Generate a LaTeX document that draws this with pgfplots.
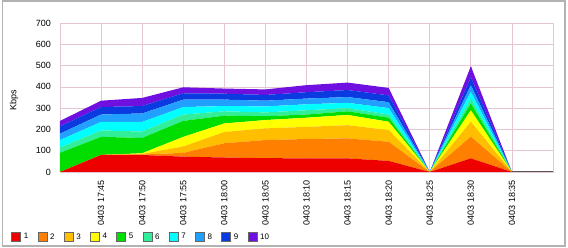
\documentclass[border=0pt]{standalone}
\usepackage{pgfplots}
\pgfplotsset{compat=1.18}
\usepackage{pgfplotstable}
\usepackage{fontspec}
\setmainfont{Liberation Sans}
\definecolor{c1}{HTML}{EE0000}
\definecolor{c2}{HTML}{FF8000}
\definecolor{c3}{HTML}{FFBE00}
\definecolor{c4}{HTML}{FFFF00}
\definecolor{c5}{HTML}{00DD00}
\definecolor{c6}{HTML}{30EE99}
\definecolor{c7}{HTML}{00FFFF}
\definecolor{c8}{HTML}{22A0FF}
\definecolor{c9}{HTML}{0A3AE0}
\definecolor{c10}{HTML}{7010E0}
\definecolor{gridpink}{HTML}{E6C6D4}
\pgfplotstableread{
x l1 l2 l3 l4 l5 l6 l7 l8 l9 l10
0 0 0 0 0 90 25 35 30 35 25
1 80 0 0 0 85 30 40 35 35 30
2 80 2 3 3 72 30 45 40 35 38
3 72 18 30 45 75 30 35 35 30 28
4 68 67 53 40 37 20 25 30 28 24
5 65 85 55 39 18 18 28 27 27 26
6 64 91 57 43 15 20 28 27 30 33
7 64 94 62 48 17 15 25 27 33 35
8 52 90 55 39 19 15 30 28 32 35
9 0 0 0 0 0 0 0 0 0 0
10 64 102 70 54 32 23 32 31 37 52
11 0 0 0 0 0 0 0 0 0 0
}\datatable
\begin{document}
\begin{tikzpicture}[font=\fontsize{9}{10}\selectfont]
\useasboundingbox (0,0) rectangle (568pt,248pt);
\draw[black!30, line width=1.2pt] (2.5pt,2pt) rectangle (565pt,247pt);
\begin{axis}[
  at={(60pt,76pt)}, anchor=south west,
  scale only axis, width=493pt, height=149pt,
  xmin=0, xmax=12, ymin=0, ymax=700,
  stack plots=y,
  xtick={1,...,11},
  xticklabels={0403 17:45,0403 17:50,0403 17:55,0403 18:00,0403 18:05,0403 18:10,0403 18:15,0403 18:20,0403 18:25,0403 18:30,0403 18:35},
  ytick={0,100,...,700},
  xticklabel style={rotate=90, anchor=east, inner sep=0pt},
  xticklabel shift=8pt,
  yticklabel style={anchor=east, inner sep=0pt},
  yticklabel shift=9pt,
  major tick length=0pt,
  /pgf/number format/assume math mode=true,
  grid=major,
  grid style={gridpink, line width=0.7pt},
  axis line style={gridpink, line width=0.7pt},
  ylabel={Kbps},
  ylabel style={at={(rel axis cs:-0.093,0.48)}, anchor=center},
  legend columns=10,
  legend style={at={(rel axis cs:-0.099,-0.436)}, anchor=west, draw=none, fill=none, inner sep=0pt, font=\fontsize{8}{9}\selectfont,
    /tikz/every odd column/.append style={column sep=1pt},
    /tikz/every even column/.append style={column sep=7.2pt}},
  legend image code/.code={\draw[#1, draw=black!60, line width=0.6pt] (0pt,-4.5pt) rectangle (9pt,4.5pt);},
]
\addplot[fill=c1, draw=none] table[x=x, y=l1] {\datatable} \closedcycle;
\addplot[fill=c2, draw=none] table[x=x, y=l2] {\datatable} \closedcycle;
\addplot[fill=c3, draw=none] table[x=x, y=l3] {\datatable} \closedcycle;
\addplot[fill=c4, draw=none] table[x=x, y=l4] {\datatable} \closedcycle;
\addplot[fill=c5, draw=none] table[x=x, y=l5] {\datatable} \closedcycle;
\addplot[fill=c6, draw=none] table[x=x, y=l6] {\datatable} \closedcycle;
\addplot[fill=c7, draw=none] table[x=x, y=l7] {\datatable} \closedcycle;
\addplot[fill=c8, draw=none] table[x=x, y=l8] {\datatable} \closedcycle;
\addplot[fill=c9, draw=none] table[x=x, y=l9] {\datatable} \closedcycle;
\addplot[fill=c10, draw=none] table[x=x, y=l10] {\datatable} \closedcycle;
\legend{1,2,3,4,5,6,7,8,9,10}
\draw[black!35, dashed, line width=0.6pt]
  (axis cs:1,0) -- (axis cs:1,335)
  (axis cs:2,0) -- (axis cs:2,348)
  (axis cs:3,0) -- (axis cs:3,398)
  (axis cs:4,0) -- (axis cs:4,392)
  (axis cs:5,0) -- (axis cs:5,388)
  (axis cs:6,0) -- (axis cs:6,408)
  (axis cs:7,0) -- (axis cs:7,420)
  (axis cs:8,0) -- (axis cs:8,395)
  (axis cs:10,0) -- (axis cs:10,497);
\draw[black!65, line width=1.3pt] (rel axis cs:0,0) -- (rel axis cs:1,0);
\end{axis}
\end{tikzpicture}
\end{document}
